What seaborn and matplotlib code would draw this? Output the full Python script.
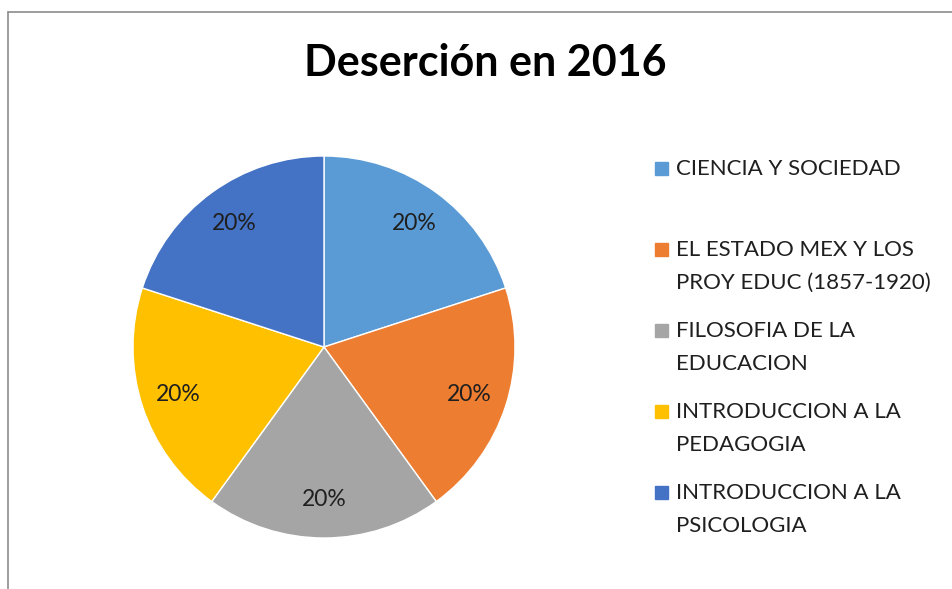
import matplotlib
matplotlib.use("Agg")
import matplotlib.pyplot as plt
import seaborn as sns
from matplotlib.lines import Line2D
from matplotlib.patches import Rectangle

# data
cursos = [
    "CIENCIA Y SOCIEDAD",
    "EL ESTADO MEX Y LOS\nPROY EDUC (1857-1920)",
    "FILOSOFIA DE LA\nEDUCACION",
    "INTRODUCCION A LA\nPEDAGOGIA",
    "INTRODUCCION A LA\nPSICOLOGIA",
]
desercion = [1, 1, 1, 1, 1]
colores = ["#5B9BD5", "#ED7D31", "#A5A5A5", "#FFC000", "#4472C4"]
titulo = "Deserción en 2016"

sns.set_theme(style="white")
plt.rcParams["font.family"] = ["Lato", "DejaVu Sans"]
palette = sns.color_palette(colores)

W, H = 953, 589
fig = plt.figure(figsize=(W / 100, H / 100), dpi=100)

# pie axes: center (324, 347) px, radius 191 px
cx, cy, r = 324, 347, 191
ax = fig.add_axes([(cx - r) / W, (H - cy - r) / H, 2 * r / W, 2 * r / H])
ax.pie(desercion, colors=palette, startangle=90, counterclock=False,
       autopct="%1.0f%%", pctdistance=0.8, radius=1,
       wedgeprops=dict(edgecolor="white", linewidth=1),
       textprops=dict(fontsize=16.5, color="#1f1f1f"))
ax.set_xlim(-1, 1)
ax.set_ylim(-1, 1)
ax.set_aspect("auto")
ax.axis("off")

fig.text(485 / W, 1 - 63 / H, titulo, ha="center", va="center",
         fontsize=31, fontweight="bold", color="black")

# legend drawn by hand
for i, (lab, col) in enumerate(zip(cursos, palette)):
    y = 168 + 81 * i
    fig.add_artist(Rectangle((655 / W, 1 - (y + 7) / H), 13 / W, 13 / H,
                             transform=fig.transFigure, color=col))
    fig.text(676 / W, 1 - (y - 9) / H, lab, ha="left", va="top",
             fontsize=16, color="#1f1f1f", linespacing=1.8)

# chart frame (left and top)
fig.add_artist(Line2D([8.5 / W, 8.5 / W], [0, 1 - 11.5 / H],
                      transform=fig.transFigure, color="#8c8c8c", lw=1.2))
fig.add_artist(Line2D([8.5 / W, 1], [1 - 11.5 / H, 1 - 11.5 / H],
                      transform=fig.transFigure, color="#8c8c8c", lw=1.2))

fig.savefig("out.png", dpi=100, facecolor="white")
